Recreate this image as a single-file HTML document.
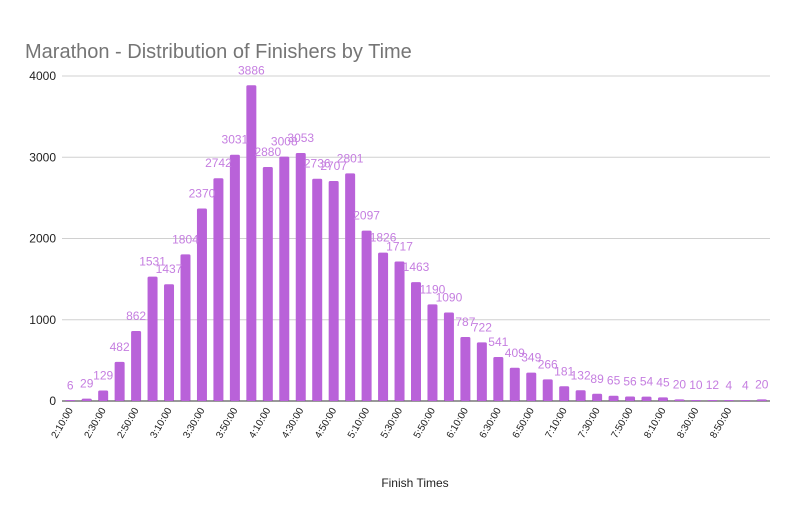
<!DOCTYPE html>
<html><head><meta charset="utf-8"><style>
body{margin:0;background:#fff;}
svg{display:block;font-family:"Liberation Sans",Roboto,sans-serif;}
</style></head><body>
<svg id="c" width="800" height="518">
<text x="25" y="58" font-size="20" fill="#757575">Marathon - Distribution of Finishers by Time</text>
<text x="415" y="487" font-size="12" fill="#222" text-anchor="middle">Finish Times</text>
<g id="grid"></g><g id="bars"></g><g id="vals"></g><g id="xt"></g>
</svg>
<script>
const categories=["2:10:00","2:20:00","2:30:00","2:40:00","2:50:00","3:00:00","3:10:00","3:20:00","3:30:00","3:40:00","3:50:00","4:00:00","4:10:00","4:20:00","4:30:00","4:40:00","4:50:00","5:00:00","5:10:00","5:20:00","5:30:00","5:40:00","5:50:00","6:00:00","6:10:00","6:20:00","6:30:00","6:40:00","6:50:00","7:00:00","7:10:00","7:20:00","7:30:00","7:40:00","7:50:00","8:00:00","8:10:00","8:20:00","8:30:00","8:40:00","8:50:00","9:00:00","9:10:00"];
const finishers=[6,29,129,482,862,1531,1437,1804,2370,2742,3031,3886,2880,3008,3053,2736,2707,2801,2097,1826,1717,1463,1190,1090,787,722,541,409,349,266,181,132,89,65,56,54,45,20,10,12,4,4,20];
const yTicks=[0,1000,2000,3000,4000];
const NS="http://www.w3.org/2000/svg";
const L=62,R=770,B=401,T=76,yMax=4000;
const step=(R-L)/categories.length;
const x=i=>L+step*(i+0.5);
const y=v=>B-(v/yMax)*(B-T);
function mk(tag,attrs,parent,txt){const e=document.createElementNS(NS,tag);for(const k in attrs)e.setAttribute(k,attrs[k]);if(txt!=null)e.textContent=txt;document.getElementById(parent).appendChild(e);return e;}
yTicks.forEach(t=>{
 const g=mk('line',{x1:L,x2:R,y1:y(t),y2:y(t),stroke:t===0?'#333':'#d0d0d0','stroke-width':1},'grid');
 
 
 const l=mk('text',{x:L-6,y:y(t)+4,'font-size':12,fill:'#222','text-anchor':'end'},'grid',String(t));
 
 
});
finishers.forEach((v,i)=>{
 const w=10,top=y(v),h=Math.max(B-top,1);
 const r=mk('rect',{x:x(i)-w/2,y:B-h,width:w,height:h,fill:'#b962d9',rx:1.5},'bars');
 
 
 const t=mk('text',{x:x(i),y:top-11,'font-size':12,fill:'#c57ee0','text-anchor':'middle'},'vals',String(v));
 
 
 if(i%2===0 && i<41){
  const xt=mk('text',{x:0,y:0,'font-size':10,fill:'#222','text-anchor':'end',transform:`translate(${x(i)+3},${B+9}) rotate(-60)`},'xt',categories[i]);
  
  
 }
});
</script>
</body></html>
